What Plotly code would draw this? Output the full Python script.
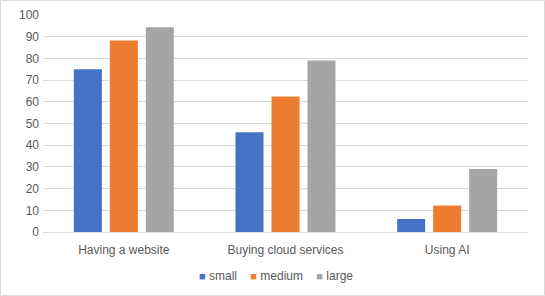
import plotly.graph_objects as go

categories = ["Having a website", "Buying cloud services", "Using AI"]
series_names = ["small", "medium", "large"]
small = [75, 46, 6]
medium = [88.3, 62.5, 12.2]
large = [94.3, 79, 29]
colors = ["#4472C4", "#ED7D31", "#A5A5A5"]
y_ticks = list(range(0, 101, 10))

W, H = 545, 296
L, R, T, B = 43, 17, 15, 64
pw, ph = W - L - R, H - T - B

fig = go.Figure()
for name, vals, c in zip(series_names, [small, medium, large], colors):
    fig.add_trace(go.Bar(x=categories, y=vals, name=name, marker=dict(color=c, line=dict(width=0))))

font = dict(family="Liberation Sans, Arial, sans-serif", size=12, color="#595959")

legend_parts = []
for name, c in zip(series_names, colors):
    legend_parts.append(f'<span style="color:{c};font-size:11px">■</span>&nbsp;{name}')
legend_text = "&nbsp;&nbsp;&nbsp;&nbsp;".join(legend_parts)

fig.update_layout(
    width=W, height=H, autosize=False,
    margin=dict(l=L, r=R, t=T, b=B, autoexpand=False),
    paper_bgcolor="white", plot_bgcolor="white",
    barmode="group", bargap=0.332, bargroupgap=0.222,
    font=font,
    showlegend=False,
    xaxis=dict(showgrid=False, showline=False, ticks="", tickfont=font, ticklabelstandoff=9),
    yaxis=dict(range=[0, 100], tickvals=y_ticks, showgrid=True, gridcolor="#D9D9D9",
               gridwidth=1, zeroline=True, zerolinecolor="#D9D9D9", zerolinewidth=1,
               showline=False, ticks="", tickfont=font, ticklabelstandoff=3),
    annotations=[dict(text=legend_text, xref="paper", yref="paper",
                      x=(276 - L) / pw, y=(T + ph - 276) / ph, xanchor="center", yanchor="middle",
                      showarrow=False, font=font)],
    shapes=[dict(type="rect", xref="paper", yref="paper",
                 x0=(0.5 - L) / pw, x1=(W - 0.5 - L) / pw,
                 y0=(T + ph - (H - 0.5)) / ph, y1=(T + ph - 0.5) / ph,
                 line=dict(color="#D9D9D9", width=1), fillcolor="rgba(0,0,0,0)", layer="below")],
)
fig.write_html("out.html")
